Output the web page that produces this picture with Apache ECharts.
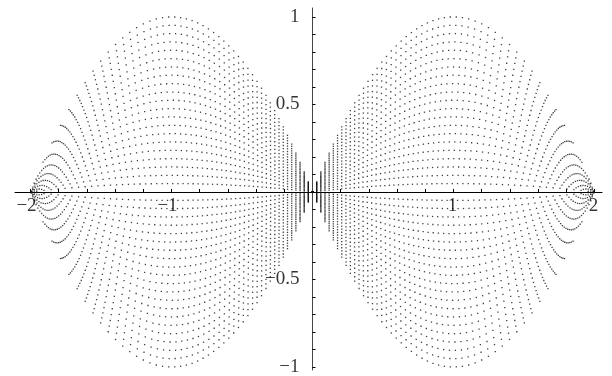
<!DOCTYPE html>
<html>
<head>
<meta charset="utf-8">
<script src="https://cdn.jsdelivr.net/npm/echarts@6/dist/echarts.min.js"></script>
<style>
  html, body { margin: 0; padding: 0; background: #ffffff; }
  #chart { width: 612px; height: 376px; }
</style>
</head>
<body>
<div id="chart"></div>
<script>
// Amplitudes of the family y = ±a·(2|x| − x²); each one is drawn above and below the axis
const amplitudes = [0.048, 0.095, 0.143, 0.190, 0.238, 0.286, 0.333, 0.381, 0.429, 0.476,
                    0.524, 0.571, 0.619, 0.667, 0.714, 0.762, 0.810, 0.857, 0.905, 0.952, 1.000];
// Dot placement: a uniform parameter u, mapped to x = u + (spread + shear·a)·u³,
// so the dots line up in columns near the origin and open out toward x = ±2
const paramStep = 2 / 68;
const spread = 0.10;
const shear = 0.10;
const halfWidth = 2;
// Axis ticks and tick labels
const xTicks = [-2, -1.8, -1.6, -1.4, -1.2, -1, -0.8, -0.6, -0.4, -0.2,
                0.2, 0.4, 0.6, 0.8, 1, 1.2, 1.4, 1.6, 1.8, 2];
const xLabels = [-2, -1, 1, 2];
const yTicks = [-1, -0.9, -0.8, -0.7, -0.6, -0.5, -0.4, -0.3, -0.2, -0.1,
                0.1, 0.2, 0.3, 0.4, 0.5, 0.6, 0.7, 0.8, 0.9, 1];
const yLabels = [-1, -0.5, 0.5, 1];

// Plotted function
const curve = (a, x) => a * (2 * Math.abs(x) - x * x);

const points = [];
for (const a of amplitudes) {
  const k = spread + shear * a;
  for (let j = 0; ; j++) {
    const u = j * paramStep;
    const x = u + k * u * u * u;
    if (x > halfWidth) break;
    const xs = j === 0 ? [0] : [x, -x];
    for (const xv of xs) {
      points.push([xv, curve(a, xv)]);
      points.push([xv, curve(-a, xv)]);
    }
  }
}

const fmt = v => (v < 0 ? '\u2212' + Math.abs(v) : String(v));
const serif = 'Liberation Serif, Times New Roman, serif';
const labelFont = { fontFamily: serif, fontSize: 19, color: '#000' };

// Tick labels sit next to the axes that cross at the origin
const xLabelData = xLabels.map(v => ({ value: [v, 0], label: { offset: [v < 0 ? -4 : -1, 0] } }));
const yLabelData = yLabels.map(v => ({ value: [0, v] }));

const chart = echarts.init(document.getElementById('chart'), null, { renderer: 'canvas' });
chart.setOption({
  animation: false,
  backgroundColor: '#ffffff',
  grid: { left: 15, right: 10, top: 8, bottom: 6, containLabel: false, outerBoundsMode: 'none' },
  xAxis: {
    type: 'value', min: -2.11, max: 2.053,
    axisLine: { show: true, onZero: true, lineStyle: { color: '#000', width: 1 } },
    axisTick: { show: true, inside: true, length: 3, customValues: xTicks, lineStyle: { color: '#000' } },
    axisLabel: { show: false },
    splitLine: { show: false }
  },
  yAxis: {
    type: 'value', min: -1.017, max: 1.051,
    axisLine: { show: true, onZero: true, lineStyle: { color: '#444', width: 1 } },
    axisTick: { show: true, inside: true, length: 3, customValues: yTicks, lineStyle: { color: '#000' } },
    axisLabel: { show: false },
    splitLine: { show: false }
  },
  series: [
    {
      type: 'scatter', data: xLabelData, symbolSize: 0, silent: true, z: 1,
      label: Object.assign({ show: true, position: 'bottom', distance: 5,
        formatter: p => fmt(p.value[0]) }, labelFont)
    },
    {
      type: 'scatter', data: yLabelData, symbolSize: 0, silent: true, z: 1,
      label: Object.assign({ show: true, position: 'left', distance: 13,
        formatter: p => fmt(p.value[1]) }, labelFont)
    },
    {
      type: 'scatter',
      data: points,
      symbol: 'rect',
      symbolSize: 1.3,
      itemStyle: { color: '#111' },
      progressive: 0,
      silent: true,
      z: 3
    }
  ]
});
</script>
</body>
</html>
